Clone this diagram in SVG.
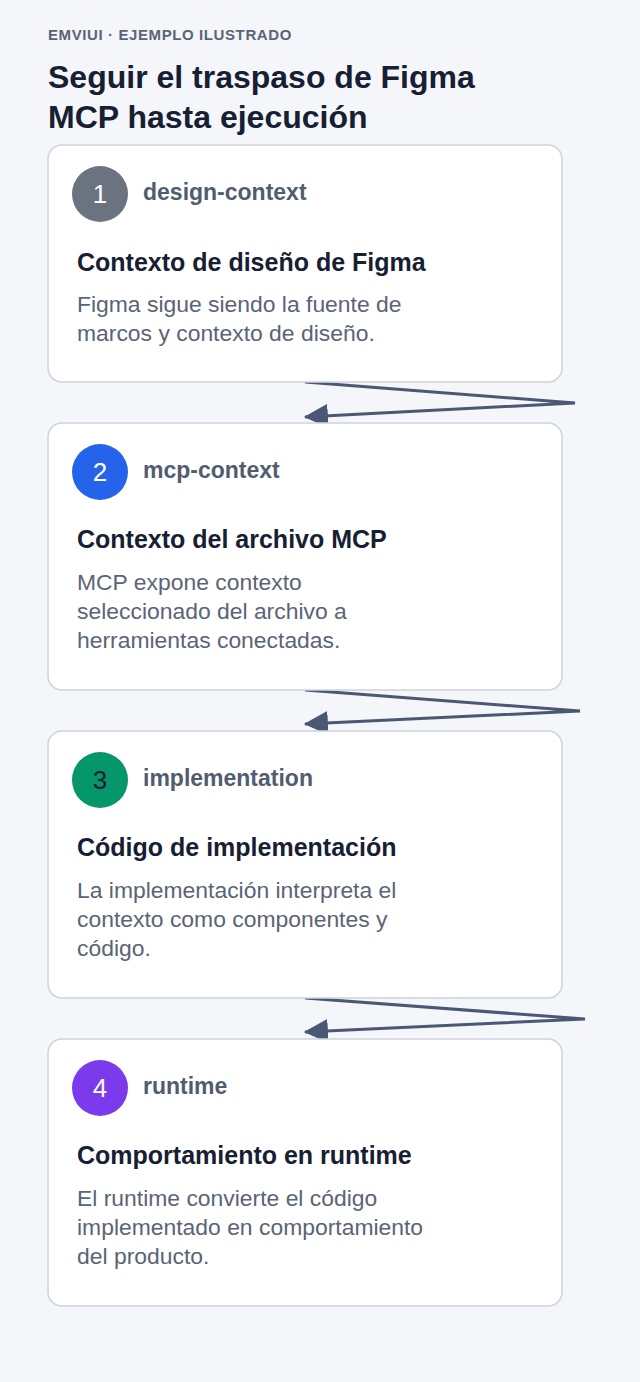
<svg xmlns="http://www.w3.org/2000/svg" width="640" height="1382" viewBox="0 0 640 1382">
<style>
.bg{fill:#f4f6fa}
.card{fill:#ffffff;stroke:#cdd4de;stroke-width:1.5}
.eyebrow{font-family:"Liberation Sans",Arial,sans-serif;font-size:15px;font-weight:bold;fill:#5b6477;letter-spacing:0.6px}
.h1{font-family:"Liberation Sans",Arial,sans-serif;font-size:32px;font-weight:bold;fill:#172033}
.num{font-family:"Liberation Sans",Arial,sans-serif;font-size:26px;text-anchor:middle}
.key{font-family:"Liberation Sans",Arial,sans-serif;font-size:23px;font-weight:bold;fill:#525c70}
.title{font-family:"Liberation Sans",Arial,sans-serif;font-size:25px;font-weight:bold;fill:#172033}
.desc{font-family:"Liberation Sans",Arial,sans-serif;font-size:22.9px;fill:#5b6475}
.conn{fill:none;stroke:#4b5873;stroke-width:3;stroke-linejoin:miter}
</style>
<defs>
<marker id="arr" markerUnits="userSpaceOnUse" markerWidth="24" markerHeight="24" viewBox="0 0 22 22" refX="21" refY="11" orient="auto">
<path d="M0,0 L22,11 L0,22 z" fill="#4b5873"/>
</marker>
</defs>
<rect class="bg" x="0" y="0" width="640" height="1382"/>
<g id="header">
<text class="eyebrow" x="48" y="40">EMVIUI · EJEMPLO ILUSTRADO</text>
<text class="h1" x="48" y="88">Seguir el traspaso de Figma</text>
<text class="h1" x="48" y="128">MCP hasta ejecución</text>
</g>
<g id="connectors">
<polyline class="conn" points="305,382 575,403 305,417" marker-end="url(#arr)"/>
<polyline class="conn" points="305,690 580,711 305,724" marker-end="url(#arr)"/>
<polyline class="conn" points="305,998 585,1019 305,1032" marker-end="url(#arr)"/>
</g>
<g id="node-design-context">
<rect class="card" x="48" y="145" width="514" height="237" rx="14"/>
<circle cx="100" cy="194" r="28" fill="#6b7280"/>
<text class="num" x="100" y="203" fill="#ffffff">1</text>
<text class="key" x="143" y="200">design-context</text>
<text class="title" x="77" y="271">Contexto de diseño de Figma</text>
<text class="desc" x="77" y="312">Figma sigue siendo la fuente de</text>
<text class="desc" x="77" y="341">marcos y contexto de diseño.</text>
</g>
<g id="node-mcp-context">
<rect class="card" x="48" y="423" width="514" height="267" rx="14"/>
<circle cx="100" cy="472" r="28" fill="#2563eb"/>
<text class="num" x="100" y="481" fill="#ffffff">2</text>
<text class="key" x="143" y="478">mcp-context</text>
<text class="title" x="77" y="548">Contexto del archivo MCP</text>
<text class="desc" x="77" y="590">MCP expone contexto</text>
<text class="desc" x="77" y="619">seleccionado del archivo a</text>
<text class="desc" x="77" y="648">herramientas conectadas.</text>
</g>
<g id="node-implementation">
<rect class="card" x="48" y="731" width="514" height="267" rx="14"/>
<circle cx="100" cy="780" r="28" fill="#059669"/>
<text class="num" x="100" y="789" fill="#172033">3</text>
<text class="key" x="143" y="786">implementation</text>
<text class="title" x="77" y="856">Código de implementación</text>
<text class="desc" x="77" y="898">La implementación interpreta el</text>
<text class="desc" x="77" y="927">contexto como componentes y</text>
<text class="desc" x="77" y="956">código.</text>
</g>
<g id="node-runtime">
<rect class="card" x="48" y="1039" width="514" height="267" rx="14"/>
<circle cx="100" cy="1088" r="28" fill="#7c3aed"/>
<text class="num" x="100" y="1097" fill="#ffffff">4</text>
<text class="key" x="143" y="1094">runtime</text>
<text class="title" x="77" y="1164">Comportamiento en runtime</text>
<text class="desc" x="77" y="1206">El runtime convierte el código</text>
<text class="desc" x="77" y="1235">implementado en comportamiento</text>
<text class="desc" x="77" y="1264">del producto.</text>
</g>
</svg>
